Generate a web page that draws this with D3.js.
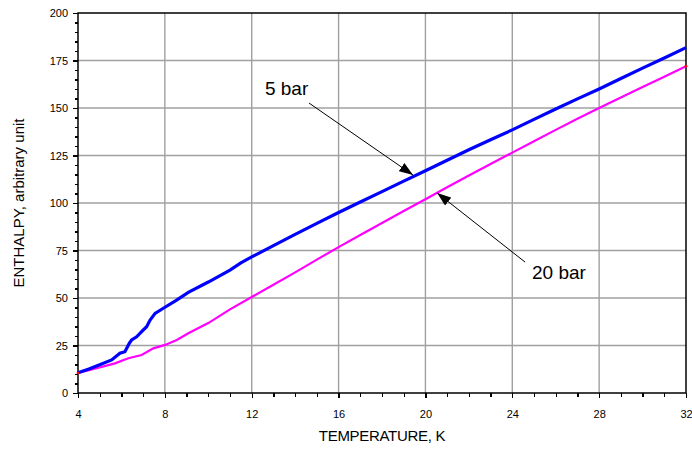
<!DOCTYPE html>
<meta charset="utf-8">
<script src="https://d3js.org/d3.v7.min.js"></script>
<style>
body { margin: 0; background: #fff; font-family: "Liberation Sans", Arial, sans-serif; }
.grid line { stroke: #a0a0a0; stroke-width: 1.4; }
.axis path, .axis line { stroke: #000; stroke-width: 1.3; shape-rendering: crispEdges; }
.axis text { font-size: 11px; fill: #000; }
</style>
<body>
<script>
// temperature (K) and enthalpy (arbitrary unit)
var temp5 = [4.0, 4.5, 5.0, 5.55, 5.93, 6.16, 6.36, 6.47, 6.7, 6.93, 7.16, 7.32, 7.55, 7.93, 8.54, 9.08, 10, 11, 11.5, 12, 13, 14, 15, 16, 17, 18, 19, 20, 21, 22, 23, 24, 25, 26, 27, 28, 29, 30, 31, 32];
var h5 = [10.7, 12.6, 14.9, 17.4, 20.9, 21.7, 26.1, 27.9, 29.6, 32.3, 34.9, 38.4, 41.9, 44.6, 48.9, 53.0, 58.4, 64.7, 68.5, 71.6, 77.6, 83.5, 89.3, 95.0, 100.5, 106.0, 111.5, 117.0, 122.5, 128.0, 133.3, 138.5, 144.0, 149.5, 154.8, 160.0, 165.5, 171.0, 176.3, 181.8];
var temp20 = [4.0, 4.86, 5.7, 6.32, 6.93, 7.47, 8.01, 8.55, 9.08, 10, 11, 12, 13, 14, 15, 16, 17, 18, 19, 20, 21, 22, 23, 24, 25, 26, 27, 28, 29, 30, 31, 32];
var h20 = [10.5, 13.0, 15.6, 18.3, 20.0, 23.5, 25.3, 27.9, 31.4, 36.8, 44.0, 50.5, 57.0, 63.5, 70.2, 76.8, 83.2, 89.5, 95.8, 102.0, 108.3, 114.5, 120.5, 126.5, 132.5, 138.5, 144.3, 150.0, 155.5, 161.0, 166.5, 172.0];
var xTicks = [4, 8, 12, 16, 20, 24, 28, 32];
var yTicks = [0, 25, 50, 75, 100, 125, 150, 175, 200];
// label text, arrow start, arrow tip (data coordinates)
var notes = [
  {text: "5 bar", tx: 12.61, ty: 156.8, x0: 14.64, y0: 152.6, x1: 19.43, y1: 114.7},
  {text: "20 bar", tx: 24.91, ty: 60.0, x0: 24.59, y0: 68.9, x1: 20.54, y1: 105.3}
];

var width = 692, height = 450;
var margin = {top: 13, right: 6, bottom: 57, left: 78};
var w = width - margin.left - margin.right;
var h = height - margin.top - margin.bottom;

var svg = d3.select("body").append("svg")
    .attr("width", width)
    .attr("height", height);

var defs = svg.append("defs");
defs.append("marker")
    .attr("id", "arrow")
    .attr("viewBox", "0 0 14 10")
    .attr("refX", 14)
    .attr("refY", 5)
    .attr("markerWidth", 14)
    .attr("markerHeight", 10)
    .attr("markerUnits", "userSpaceOnUse")
    .attr("orient", "auto")
  .append("path")
    .attr("d", "M0,0L14,5L0,10Z")
    .attr("fill", "#000");

var g = svg.append("g")
    .attr("transform", "translate(" + margin.left + "," + margin.top + ")");

var x = d3.scaleLinear().domain([4, 32]).range([0, w]);
var y = d3.scaleLinear().domain([0, 200]).range([h, 0]);

// grid
g.append("g").attr("class", "grid")
  .selectAll("line").data(xTicks.slice(1, -1)).enter().append("line")
    .attr("x1", d => x(d)).attr("x2", d => x(d))
    .attr("y1", 0).attr("y2", h);
g.append("g").attr("class", "grid")
  .selectAll("line").data(yTicks.slice(1, -1)).enter().append("line")
    .attr("y1", d => y(d)).attr("y2", d => y(d))
    .attr("x1", 0).attr("x2", w);

// minor ticks
g.append("g").attr("class", "axis")
    .attr("transform", "translate(0," + h + ")")
    .call(d3.axisBottom(x).ticks(28).tickSize(4).tickFormat(""))
    .select(".domain").remove();
g.append("g").attr("class", "axis")
    .call(d3.axisLeft(y).ticks(40).tickSize(3).tickFormat(""))
    .select(".domain").remove();

// major axes
g.append("g").attr("class", "axis")
    .attr("transform", "translate(0," + h + ")")
    .call(d3.axisBottom(x).tickValues(xTicks).tickSize(5).tickPadding(12))
    .select(".domain").remove();
g.append("g").attr("class", "axis")
    .call(d3.axisLeft(y).tickValues(yTicks).tickSize(5).tickPadding(5))
    .select(".domain").remove();

// frame
g.append("rect")
    .attr("width", w).attr("height", h)
    .attr("fill", "none").attr("stroke", "#000").attr("stroke-width", 1.5);

var line = d3.line()
    .x(d => x(d[0]))
    .y(d => y(d[1]));

g.append("path")
    .datum(d3.zip(temp20, h20))
    .attr("d", line)
    .attr("fill", "none")
    .attr("stroke", "#ff00ff")
    .attr("stroke-width", 2.2);

g.append("path")
    .datum(d3.zip(temp5, h5))
    .attr("d", line)
    .attr("fill", "none")
    .attr("stroke", "#0000ff")
    .attr("stroke-width", 3.2);

// little red end points on the 20 bar curve
g.selectAll(".endpt")
    .data([[temp20[0], h20[0]], [temp20[temp20.length - 1], h20[h20.length - 1]]])
  .enter().append("circle")
    .attr("cx", d => x(d[0])).attr("cy", d => y(d[1]))
    .attr("r", 1.4).attr("fill", "#ff0000");

// annotations
g.selectAll(".arr").data(notes).enter().append("line")
    .attr("x1", d => x(d.x0)).attr("y1", d => y(d.y0))
    .attr("x2", d => x(d.x1)).attr("y2", d => y(d.y1))
    .attr("stroke", "#000").attr("stroke-width", 1)
    .attr("marker-end", "url(#arrow)");

g.selectAll(".note").data(notes).enter().append("text")
    .attr("x", d => x(d.tx)).attr("y", d => y(d.ty))
    .attr("font-size", "19px")
    .text(d => d.text);

// axis titles
svg.append("text")
    .attr("x", margin.left + w / 2)
    .attr("y", 441)
    .attr("text-anchor", "middle")
    .attr("font-size", "15px")
    .attr("letter-spacing", "-0.3px")
    .text("TEMPERATURE, K");

svg.append("text")
    .attr("transform", "translate(24," + (margin.top + h / 2) + ") rotate(-90)")
    .attr("text-anchor", "middle")
    .attr("font-size", "15px")
    .text("ENTHALPY, arbitrary unit");
</script>
</body>
